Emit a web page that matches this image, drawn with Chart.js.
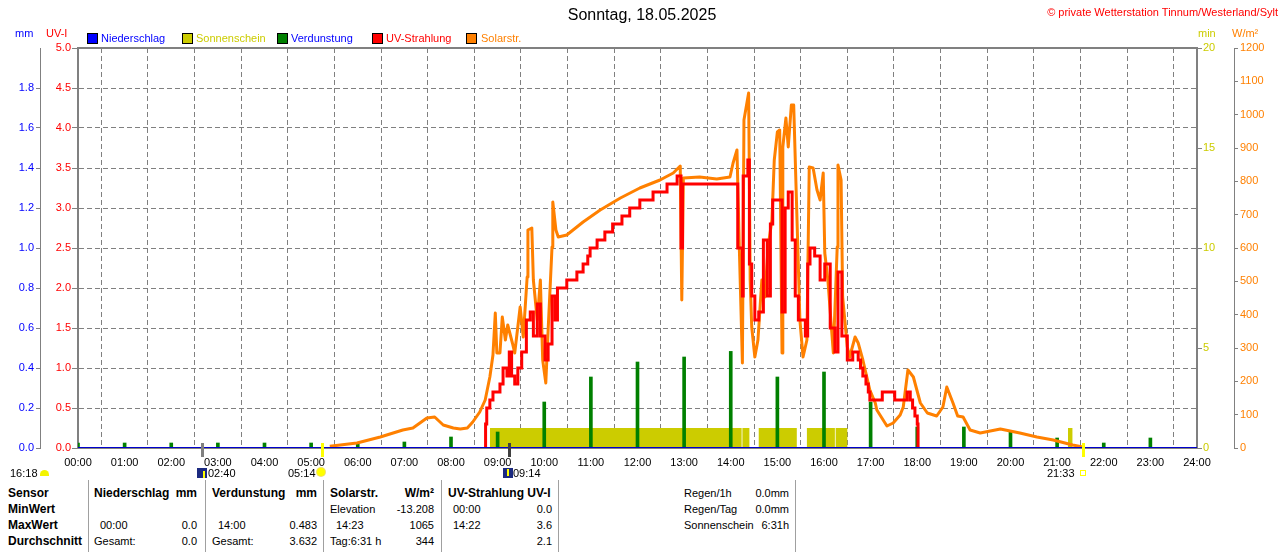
<!DOCTYPE html>
<html lang="de">
<head>
<meta charset="UTF-8">
<title>Sonntag, 18.05.2025</title>
<script src="https://cdn.jsdelivr.net/npm/chart.js"></script>
<style>
    body { margin: 0; background: #fff; font-family: 'Liberation Sans', Arial, sans-serif; font-size: 11px; color: #000; }
    #wrap { position: relative; width: 1280px; height: 552px; overflow: hidden; }
    #chartBox { position: absolute; left: 0; top: 0; width: 1280px; height: 480px; }
    .t { position: absolute; white-space: nowrap; line-height: 14px; }
    .b { font-weight: bold; font-size: 12px; }
    .box { position: absolute; width: 9px; height: 9px; border: 1px solid #000; top: 33px; }
    .sep { position: absolute; top: 480px; width: 1px; height: 72px; background: #a0a0a0; }
</style>
</head>
<body>
<div id="wrap">
    <div id="chartBox"><canvas id="wetter"></canvas></div>

    <!-- Kopf -->
    <div class="t" style="left:542px;width:200px;text-align:center;top:5px;font-size:16px;line-height:20px;">Sonntag, 18.05.2025</div>
    <div class="t" style="right:2px;top:5px;color:#ff0000;">© private Wetterstation Tinnum/Westerland/Sylt</div>

    <!-- Achsentitel -->
    <div class="t" style="left:15px;top:26px;color:#0000ff;">mm</div>
    <div class="t" style="left:46px;top:26px;color:#ff0000;">UV-I</div>
    <div class="t" style="left:1198px;top:26px;color:#cccc00;">min</div>
    <div class="t" style="left:1232px;top:26px;color:#ff8000;">W/m²</div>

    <!-- Legende -->
    <div class="box" style="left:87px;background:#0000ff;"></div>
    <div class="t" style="left:101px;top:31px;color:#0000ff;">Niederschlag</div>
    <div class="box" style="left:182px;background:#cccc00;"></div>
    <div class="t" style="left:196px;top:31px;color:#cccc00;">Sonnenschein</div>
    <div class="box" style="left:277px;background:#008000;"></div>
    <div class="t" style="left:291px;top:31px;color:#0000ff;">Verdunstung</div>
    <div class="box" style="left:372px;background:#ff0000;"></div>
    <div class="t" style="left:386px;top:31px;color:#ff0000;">UV-Strahlung</div>
    <div class="box" style="left:466px;background:#ff8000;"></div>
    <div class="t" style="left:481px;top:31px;color:#ff8000;">Solarstr.</div>

    <!-- Mond / Sonne -->
    <div class="t" style="left:10px;top:466px;">16:18</div>
    <div style="position:absolute;left:40px;top:470px;width:9px;height:6px;border-radius:5px 5px 0 0;background:#f4f400;"></div>
    <div style="position:absolute;left:197px;top:468px;width:10px;height:10px;background:#1c2a80;"></div>
    <div style="position:absolute;left:203px;top:471px;width:2px;height:7px;background:#ffff00;"></div>
    <div class="t" style="left:208px;top:466px;">02:40</div>
    <div class="t" style="left:288px;top:466px;">05:14</div>
    <div style="position:absolute;left:317px;top:468px;width:8px;height:8px;border-radius:50%;background:#ffff00;box-shadow:0 0 0 1px #f0e070;"></div>
    <div style="position:absolute;left:503px;top:468px;width:10px;height:10px;background:#1c2a80;"></div>
    <div style="position:absolute;left:507px;top:469px;width:2px;height:7px;background:#ffff00;"></div>
    <div class="t" style="left:513px;top:466px;">09:14</div>
    <div class="t" style="left:1047px;top:466px;">21:33</div>
    <div style="position:absolute;left:1080px;top:470px;width:4px;height:4px;border:1px solid #ffff00;"></div>

    <!-- Tabelle -->
    <div class="sep" style="left:88px;"></div>
    <div class="sep" style="left:205px;"></div>
    <div class="sep" style="left:323px;"></div>
    <div class="sep" style="left:441px;"></div>
    <div class="sep" style="left:558px;"></div>
    <div class="sep" style="left:795px;"></div>

    <div class="t b" style="left:8px;top:486px;">Sensor</div>
    <div class="t b" style="left:94px;top:486px;">Niederschlag</div>
    <div class="t b" style="right:1083px;top:486px;">mm</div>
    <div class="t b" style="left:212px;top:486px;">Verdunstung</div>
    <div class="t b" style="right:963px;top:486px;">mm</div>
    <div class="t b" style="left:330px;top:486px;">Solarstr.</div>
    <div class="t b" style="right:846px;top:486px;">W/m²</div>
    <div class="t b" style="left:448px;top:486px;">UV-Strahlung UV-I</div>
    <div class="t" style="left:684px;top:486px;">Regen/1h</div>
    <div class="t" style="right:491px;top:486px;">0.0mm</div>

    <div class="t b" style="left:8px;top:502px;">MinWert</div>
    <div class="t" style="left:330px;top:502px;">Elevation</div>
    <div class="t" style="right:846px;top:502px;">-13.208</div>
    <div class="t" style="left:453px;top:502px;">00:00</div>
    <div class="t" style="right:728px;top:502px;">0.0</div>
    <div class="t" style="left:684px;top:502px;">Regen/Tag</div>
    <div class="t" style="right:491px;top:502px;">0.0mm</div>

    <div class="t b" style="left:8px;top:518px;">MaxWert</div>
    <div class="t" style="left:100px;top:518px;">00:00</div>
    <div class="t" style="right:1083px;top:518px;">0.0</div>
    <div class="t" style="left:218px;top:518px;">14:00</div>
    <div class="t" style="right:963px;top:518px;">0.483</div>
    <div class="t" style="left:336px;top:518px;">14:23</div>
    <div class="t" style="right:846px;top:518px;">1065</div>
    <div class="t" style="left:453px;top:518px;">14:22</div>
    <div class="t" style="right:728px;top:518px;">3.6</div>
    <div class="t" style="left:684px;top:518px;">Sonnenschein</div>
    <div class="t" style="right:491px;top:518px;">6:31h</div>

    <div class="t b" style="left:8px;top:534px;">Durchschnitt</div>
    <div class="t" style="left:94px;top:534px;">Gesamt:</div>
    <div class="t" style="right:1083px;top:534px;">0.0</div>
    <div class="t" style="left:212px;top:534px;">Gesamt:</div>
    <div class="t" style="right:963px;top:534px;">3.632</div>
    <div class="t" style="left:330px;top:534px;">Tag:6:31 h</div>
    <div class="t" style="right:846px;top:534px;">344</div>
    <div class="t" style="right:728px;top:534px;">2.1</div>
</div>

<script>
    // Zeiten in Minuten seit 00:00
    const rainHour = [0, 1, 2, 3, 4, 5, 6, 7, 8, 9, 10, 11, 12, 13, 14, 15, 16, 17, 18, 19, 20, 21, 22, 23, 24];
    const rainValue = [0, 0, 0, 0, 0, 0, 0, 0, 0, 0, 0, 0, 0, 0, 0, 0, 0, 0, 0, 0, 0, 0, 0, 0, 0];

    const evapHour = [0, 1, 2, 3, 4, 5, 6, 7, 8, 9, 10, 11, 12, 13, 14, 15, 16, 17, 18, 19, 20, 21, 22, 23];
    const evapValue = [0.025, 0.025, 0.025, 0.025, 0.025, 0.025, 0.025, 0.03, 0.055, 0.08, 0.23, 0.355,
                       0.43, 0.455, 0.483, 0.355, 0.38, 0.23, 0.105, 0.105, 0.08, 0.05, 0.025, 0.05];

    const sunStart = [530, 855, 876, 938, 975, 1274];
    const sunEnd = [854, 864, 925, 974, 990, 1280];
    const sunValue = [1, 1, 1, 1, 1, 1];

    const solarTime = [324, 359, 389, 418, 431, 449, 459, 470, 483, 492, 501, 508, 517, 524, 530, 534, 537, 539,
        543, 546, 550, 553, 559, 562, 569, 573, 578, 579, 584, 586, 591, 595, 598, 602, 605, 610, 611, 615, 618,
        629, 650, 672, 698, 723, 749, 766, 775, 777, 779, 800, 822, 839, 843, 848, 851, 855, 857, 863, 864, 865,
        867, 871, 875, 880, 884, 888, 893, 896, 900, 903, 906, 907, 911, 914, 918, 921, 925, 929, 933, 938, 941,
        946, 951, 955, 959, 961, 965, 972, 977, 978, 982, 984, 990, 993, 1000, 1004, 1010, 1019, 1026, 1028,
        1041, 1049, 1058, 1062, 1068, 1075, 1084, 1093, 1105, 1113, 1118, 1126, 1132, 1139, 1148, 1161, 1187,
        1212, 1234, 1255, 1280, 1293];
    const solarValue = [5, 15, 33, 54, 60, 90, 93, 69, 60, 57, 60, 78, 108, 144, 213, 279, 405, 285,
        285, 393, 324, 369, 315, 285, 423, 333, 513, 654, 660, 504, 384, 504, 264, 195, 354, 603, 738, 654, 633,
        639, 678, 714, 750, 780, 804, 825, 846, 444, 810, 813, 807, 813, 855, 894, 603, 255, 984, 1065, 804, 504,
        363, 273, 324, 504, 453, 603, 684, 864, 948, 954, 285, 903, 990, 903, 1029, 1029, 705, 384, 273, 324, 843,
        840, 774, 744, 825, 585, 504, 285, 603, 849, 804, 453, 303, 273, 333, 315, 264, 174, 135, 114,
        66, 75, 99, 123, 234, 213, 135, 105, 96, 123, 183, 135, 96, 93, 54, 45, 57,
        45, 33, 24, 9, 3];

    const uvTime = [524, 524.5, 526, 530, 534, 543, 547, 552, 555, 558, 562, 566, 571, 577, 582, 586, 591, 595,
        601, 605, 610, 614, 617, 629, 642, 650, 656, 659, 668, 678, 688, 700, 710, 723, 740, 758, 771,
        776, 778, 849, 855, 856, 862, 864, 867, 871, 876, 882, 887, 891, 894, 906, 910, 914, 919, 923, 927,
        936, 939, 942, 948, 955, 961, 968, 974, 978, 983, 990, 997, 1004, 1007, 1010, 1014, 1017, 1019,
        1035, 1051, 1067, 1071, 1074, 1077, 1080, 1081];
    const uvValue = [0, 0.3, 0.5, 0.6, 0.7, 0.8, 1.0, 0.9, 1.2, 0.9, 0.8, 1.0, 1.2, 1.6, 1.7, 1.4, 1.8, 1.4,
        1.1, 1.3, 1.9, 1.6, 2.0, 2.1, 2.2, 2.3, 2.4, 2.5, 2.6, 2.7, 2.8, 2.9, 3.0, 3.1, 3.2, 3.3, 3.4,
        2.5, 3.3, 2.5, 1.9, 3.4, 3.6, 2.3, 1.9, 1.6, 1.7, 2.6, 1.9, 2.8, 3.1, 1.7, 3.0, 3.2, 2.6, 1.9, 1.6,
        1.4, 2.3, 2.5, 2.4, 2.1, 2.3, 1.5, 1.2, 2.2, 1.4, 1.1, 1.2, 1.1, 1.0, 0.9, 0.8, 0.7, 0.6,
        0.7, 0.6, 0.7, 0.6, 0.5, 0.4, 0.3, 0];

    // Mondaufgang, Sonnenaufgang, Monduntergang, Sonnenuntergang
    const markTime = [160, 314, 554, 1293];
    const markColor = ['#808080', '#ffff00', '#404040', '#ffff00'];

    const toPts = (xs, ys) => xs.map((x, i) => ({ x: x, y: ys[i] }));
    const sunPts = [];
    sunStart.forEach((s, i) => {
        sunPts.push({ x: s, y: 0 }, { x: s, y: sunValue[i] }, { x: sunEnd[i], y: sunValue[i] }, { x: sunEnd[i], y: 0 });
    });

    const GRID = '#808080';
    Chart.defaults.font.family = "'Liberation Sans', Arial, sans-serif";
    Chart.defaults.font.size = 11;

    const framePlugin = {
        id: 'frame',
        beforeDatasetsDraw(chart) {
            const { ctx, chartArea: a } = chart;
            ctx.save();
            ctx.strokeStyle = GRID;
            ctx.lineWidth = 2;
            ctx.beginPath();
            ctx.moveTo(a.left - 1, a.top);
            ctx.lineTo(a.right + 1, a.top);
            ctx.stroke();
            ctx.restore();
        },
        afterDraw(chart) {
            const { ctx, chartArea: a } = chart;
            const xs = chart.scales.x;
            ctx.save();
            markTime.forEach((t, i) => {
                const px = Math.round(xs.getPixelForValue(t));
                ctx.fillStyle = markColor[i];
                ctx.fillRect(px - 1, a.bottom - 5, 3, 14);
            });
            ctx.restore();
        }
    };

    const hh = v => String(Math.round(v / 60)).padStart(2, '0') + ':00';

    new Chart(document.getElementById('wetter'), {
        type: 'line',
        data: {
            datasets: [
                { label: 'Niederschlag', data: toPts(rainHour.map(h => h * 60), rainValue), yAxisID: 'mm',
                  borderColor: '#0000cc', borderWidth: 2, pointRadius: 0, order: 0 },
                { label: 'UV-Strahlung', data: toPts(uvTime, uvValue), yAxisID: 'uv', stepped: true,
                  borderColor: '#ff0000', borderWidth: 3, pointRadius: 0, order: 1 },
                { label: 'Solarstr.', data: toPts(solarTime, solarValue), yAxisID: 'solar',
                  borderColor: '#ff8000', borderWidth: 3, borderJoinStyle: 'round', pointRadius: 0, order: 2 },
                { type: 'bar', label: 'Verdunstung', data: toPts(evapHour.map(h => h * 60), evapValue), yAxisID: 'mm',
                  backgroundColor: '#008000', barThickness: 3, order: 3 },
                { label: 'Sonnenschein', data: sunPts, yAxisID: 'sun', fill: 'origin',
                  backgroundColor: '#cccc00', borderWidth: 0, pointRadius: 0, order: 4 }
            ]
        },
        options: {
            responsive: true,
            maintainAspectRatio: false,
            animation: false,
            layout: { padding: { top: 48, left: 0, right: 0, bottom: 0 } },
            plugins: { legend: { display: false }, tooltip: { enabled: false } },
            scales: {
                x: {
                    type: 'linear', min: 0, max: 1440, offset: false,
                    afterFit: s => { s.height = 32; },
                    ticks: { stepSize: 60, autoSkip: false, maxRotation: 0, color: '#000', padding: 8, callback: hh },
                    grid: { color: GRID, drawTicks: false },
                    border: { color: GRID, width: 2, dash: [5, 3] }
                },
                mm: {
                    position: 'left', weight: 1, min: 0, max: 2,
                    afterFit: s => { s.width = 40; },
                    afterBuildTicks: s => { s.ticks = s.ticks.filter(t => t.value < 1.99); },
                    ticks: { stepSize: 0.2, color: '#0000ff', padding: 2, callback: v => v.toFixed(1) },
                    grid: { drawOnChartArea: false, color: GRID, tickLength: 4 },
                    border: { color: GRID, width: 1 }
                },
                uv: {
                    position: 'left', weight: 0, min: 0, max: 5,
                    afterFit: s => { s.width = 38; },
                    ticks: { stepSize: 0.5, color: '#ff0000', padding: 1, callback: v => v.toFixed(1) },
                    grid: { color: GRID, tickLength: 6, tickBorderDash: [] },
                    border: { color: GRID, width: 2, dash: [5, 3] }
                },
                sun: {
                    position: 'right', weight: 0, min: 0, max: 20,
                    afterFit: s => { s.width = 37; },
                    ticks: { stepSize: 5, color: '#cccc00', padding: 1, callback: v => String(v) },
                    grid: { drawOnChartArea: false, color: GRID, tickLength: 5 },
                    border: { color: GRID, width: 2 }
                },
                solar: {
                    position: 'right', weight: 1, min: 0, max: 1200,
                    afterFit: s => { s.width = 46; },
                    ticks: { stepSize: 100, color: '#ff8000', padding: 2, callback: v => String(v) },
                    grid: { drawOnChartArea: false, color: GRID, tickLength: 4 },
                    border: { color: GRID, width: 1 }
                }
            }
        },
        plugins: [framePlugin]
    });
</script>
</body>
</html>
